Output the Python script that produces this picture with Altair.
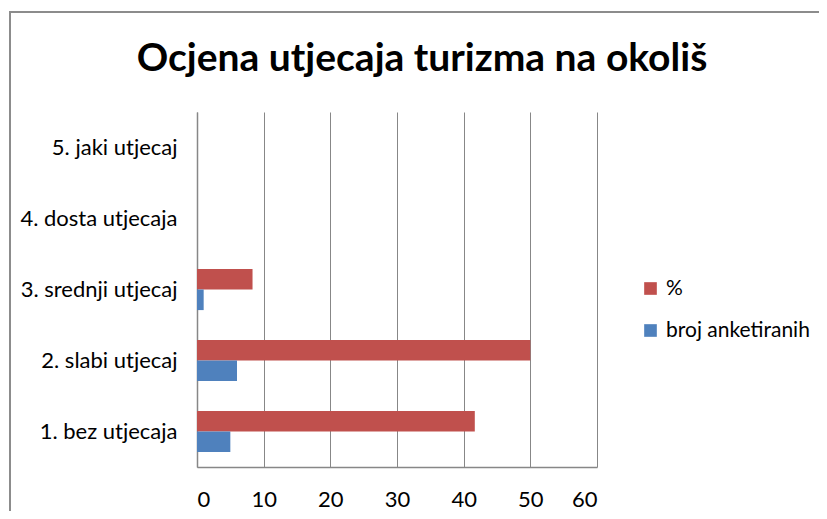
import altair as alt
import pandas as pd

categories = ["1. bez utjecaja", "2. slabi utjecaj", "3. srednji utjecaj", "4. dosta utjecaja", "5. jaki utjecaj"]
series = ["%", "broj anketiranih"]
pct_values = [41.67, 50.0, 8.33, 0, 0]
broj_values = [5, 6, 1, 0, 0]
x_ticks = [0, 10, 20, 30, 40, 50, 60]
title_text = "Ocjena utjecaja turizma na okoliš"

rows = []
for c, p, b in zip(categories, pct_values, broj_values):
    rows.append({"kategorija": c, "serija": "%", "vrijednost": p})
    rows.append({"kategorija": c, "serija": "broj anketiranih", "vrijednost": b})
df = pd.DataFrame(rows)

FONT = "Lato"
FS = 22
GRID = "#878787"

bars = alt.Chart(df).mark_bar().encode(
    y=alt.Y("kategorija:N", sort=categories[::-1],
            scale=alt.Scale(paddingInner=0.42, paddingOuter=0.21),
            axis=alt.Axis(title=None, ticks=False, labelPadding=20, labelFontSize=FS,
                          labelFont=FONT, labelColor="#000000", domainColor=GRID, domainWidth=1.5)),
    yOffset=alt.YOffset("serija:N", sort=series, scale=alt.Scale(paddingInner=0, paddingOuter=0)),
    x=alt.X("vrijednost:Q", scale=alt.Scale(domain=[0, 60], nice=False),
            axis=alt.Axis(title=None, values=x_ticks, ticks=False, labelPadding=22, labelFontSize=FS,
                          labelFont=FONT, labelColor="#000000", domainColor=GRID, domainWidth=1.5,
                          grid=True, gridColor=GRID, gridWidth=1)),
    color=alt.Color("serija:N", sort=series,
                    scale=alt.Scale(domain=series, range=["#C0504D", "#4F81BD"]),
                    legend=alt.Legend(title=None, orient="none", legendX=443, legendY=166,
                                      symbolType="square", symbolSize=160, symbolStrokeWidth=0,
                                      labelFont=FONT, labelFontSize=21, labelColor="#000000",
                                      rowPadding=20, labelOffset=5)),
)

title = alt.Chart(pd.DataFrame({"t": [title_text]})).mark_text(
    font=FONT, fontSize=39, fontWeight="bold", color="#000000", baseline="alphabetic", align="center"
).encode(text="t:N", x=alt.value(225), y=alt.value(-41))

frame = alt.Chart(pd.DataFrame({"a": [0]})).mark_rect(
    fill=None, stroke="#8c8c8c", strokeWidth=2, fillOpacity=0
).encode(x=alt.value(-187), x2=alt.value(700), y=alt.value(-100), y2=alt.value(600))

chart = alt.layer(frame, bars, title).properties(
    width=400, height=355,
    autosize=alt.AutoSizeParams(type="none"),
    padding={"left": 189, "top": 104, "right": 222, "bottom": 44},
).configure_view(strokeWidth=0)

chart.save("out.html", embed_options={"renderer": "svg", "actions": False})
